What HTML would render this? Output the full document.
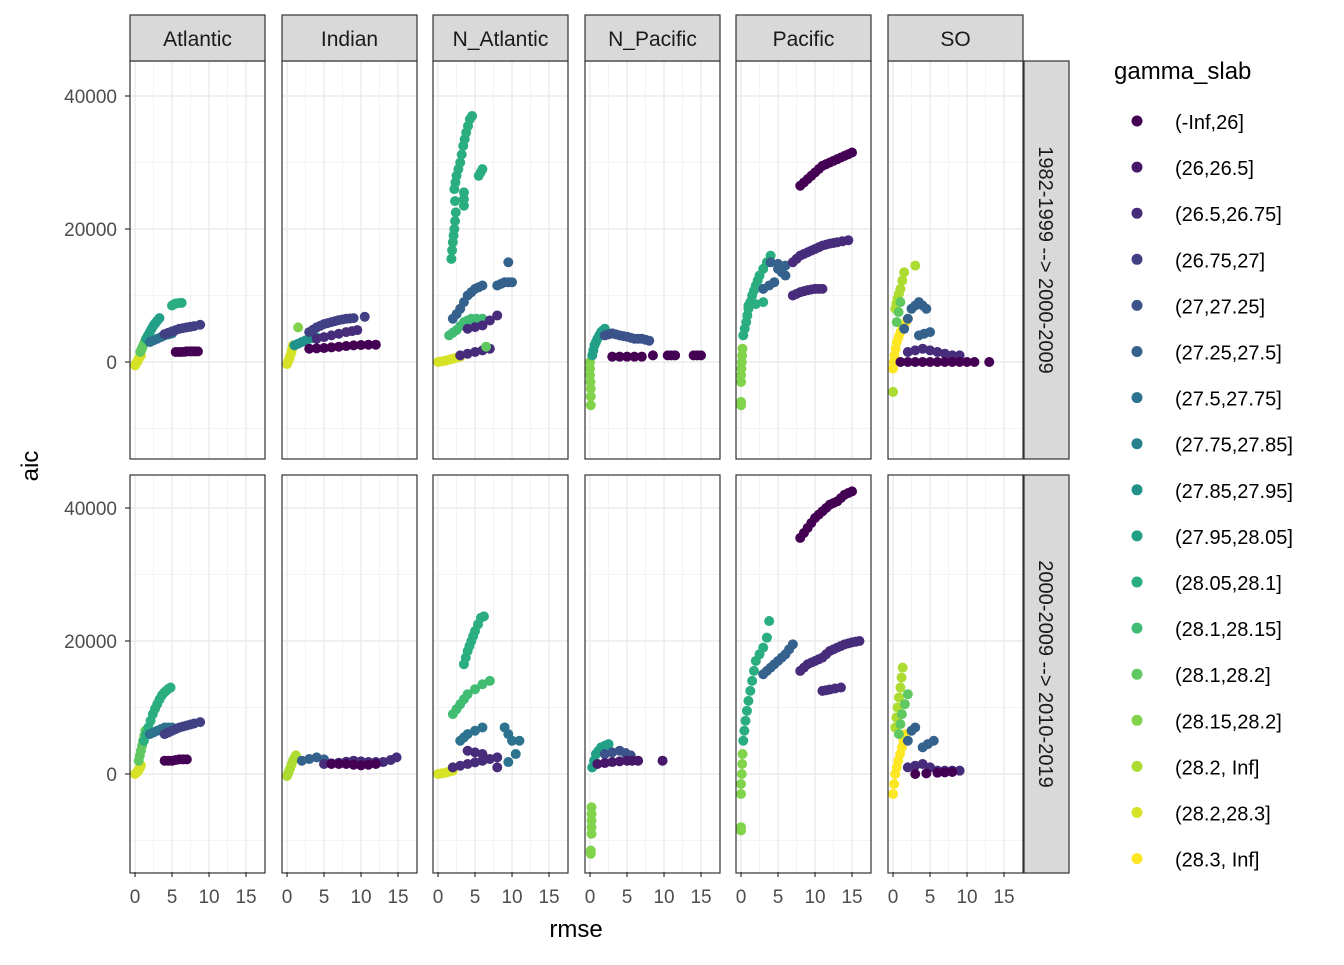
<!DOCTYPE html>
<html><head><meta charset="utf-8"><style>
body{margin:0;background:#fff}
svg text{font-family:"Liberation Sans",sans-serif}
</style></head><body>
<svg id="chart" width="1344" height="960" xmlns="http://www.w3.org/2000/svg"></svg>
<script>
const panels=["Atlantic","Indian","N_Atlantic","N_Pacific","Pacific","SO"];
const rowLabels=["1982-1999 --> 2000-2009","2000-2009 --> 2010-2019"];
const categories=["(-Inf,26]","(26,26.5]","(26.5,26.75]","(26.75,27]","(27,27.25]","(27.25,27.5]","(27.5,27.75]","(27.75,27.85]","(27.85,27.95]","(27.95,28.05]","(28.05,28.1]","(28.1,28.15]","(28.1,28.2]","(28.15,28.2]","(28.2, Inf]","(28.2,28.3]","(28.3, Inf]"];
const xTicks=[0,5,10,15];
const yTicks=[0,20000,40000];
const yTickLabels=["0","20000","40000"];
// each streak: [row, panel, category, [[rmse, aic], ...]]
const streaks=[
[0,0,15,[[0,-500],[0.15,-200],[0.3,0],[0.4,250],[0.5,500],[0.65,750],[0.8,1000]]],
[0,0,12,[[0.7,1500],[0.85,1850],[1,2200],[1.15,2600],[1.3,3000],[1.45,3250],[1.6,3500]]],
[0,0,9,[[1.5,3500],[1.75,4000],[2,4500],[2.25,5000],[2.5,5500],[2.75,5850],[3,6200],[3.3,6600]]],
[0,0,6,[[2,3000],[2.5,3250],[3,3500],[3.5,3750],[4,4000],[4.5,4150],[5,4300]]],
[0,0,3,[[4,4200],[4.5,4400],[5,4600],[5.5,4800],[6,5000],[6.5,5100],[7,5200],[7.5,5300],[8,5400],[8.8,5600]]],
[0,0,0,[[5.5,1500],[5.9,1500],[6.3,1500],[6.7,1550],[7,1600],[7.4,1600],[7.7,1600],[8.1,1600],[8.5,1600]]],
[0,0,10,[[5,8500],[5.3,8700],[5.5,8800],[5.9,8850],[6.3,8900]]],
[1,0,15,[[0,0],[0.15,150],[0.3,300],[0.45,550],[0.6,800],[0.7,1050],[0.8,1300]]],
[1,0,12,[[0.5,2000],[0.65,2750],[0.8,3500],[0.95,4250],[1.1,5000],[1.25,5750],[1.4,6500]]],
[1,0,10,[[1.2,5000],[1.5,6000],[1.8,7000],[2.1,8000],[2.4,9000],[2.7,9800],[3,10500],[3.3,11200],[3.6,11800],[3.9,12200],[4.2,12500],[4.5,12800],[4.8,13000]]],
[1,0,6,[[2,6000],[2.5,6250],[3,6500],[3.5,6750],[4,7000],[4.5,7000],[5,7000]]],
[1,0,3,[[4,6000],[4.5,6250],[5,6500],[5.5,6750],[6,7000],[6.5,7150],[7,7300],[7.5,7450],[8,7600],[8.8,7800]]],
[1,0,0,[[4,2000],[4.5,2000],[5,2000],[5.5,2100],[6,2200],[6.5,2200],[7,2200]]],
[0,1,15,[[0,-300],[0.15,100],[0.3,500],[0.45,1000],[0.6,1500],[0.7,2000],[0.8,2500]]],
[0,1,13,[[1.5,5200]]],
[0,1,8,[[1,2500],[1.5,2750],[2,3000],[2.5,3250],[3,3500],[3.5,3600],[4,3700]]],
[0,1,3,[[3,4500],[3.5,4850],[4,5200],[4.5,5450],[5,5700],[5.5,5850],[6,6000],[6.5,6150],[7,6300],[7.5,6400],[8,6500],[8.5,6550],[9,6600],[10.5,6800]]],
[0,1,2,[[4,3500],[5,3750],[6,4000],[7,4250],[8,4500],[8.8,4650],[9.5,4800]]],
[0,1,0,[[3,2000],[4,2050],[5,2100],[6,2200],[7,2300],[8,2400],[9,2500],[10,2550],[11,2600],[12,2600]]],
[1,1,14,[[0,-300],[0.2,250],[0.4,800],[0.6,1400],[0.8,2000],[1,2400],[1.2,2800]]],
[1,1,5,[[2,2000],[3,2250],[4,2500],[5,2200]]],
[1,1,2,[[5,1500],[6,1600],[7,1700],[8,1850],[9,2000],[10,1900],[11,1800],[12,1800],[13,1800],[14,2100],[14.8,2500]]],
[1,1,0,[[6,1500],[7,1500],[8,1500],[9,1400],[10,1300],[11,1400],[12,1500]]],
[0,2,10,[[1.8,15500],[1.9,16800],[2,18000],[2.1,19000],[2.2,20000],[2.3,21200],[2.4,22500],[2.3,24200],[2.2,26000],[2.35,27000],[2.5,28000],[2.75,29000],[3,30000],[3.2,31200],[3.4,32500],[3.6,33500],[3.8,34500],[4.05,35500],[4.3,36500],[4.6,37000],[5.5,28000],[5.75,28500],[6,29000],[3.5,25500],[3.5,24500],[3.5,23500]]],
[0,2,15,[[0,0],[0.5,100],[1,200],[1.5,350],[2,500],[2.5,650],[3,800]]],
[0,2,11,[[1.5,4000],[2,4400],[2.5,4800],[3,5400],[3.5,6000],[4,6250],[4.5,6500],[5.2,6500],[6,6500]]],
[0,2,5,[[2,6500],[2.5,7200],[3,8000],[3.5,9000],[4,10000],[4.5,10500],[5,11000],[5.5,11250],[6,11500],[8,11500],[8.5,11750],[9,12000],[9.5,12000],[10,12000],[9.5,15000]]],
[0,2,2,[[3,1000],[4,1250],[5,1500],[6,1750],[7,2000],[4,5000],[5,5250],[6,5500],[7,6250],[8,7000]]],
[0,2,12,[[6.5,2300]]],
[1,2,10,[[3.5,16500],[3.75,17500],[4,18500],[4.25,19250],[4.5,20000],[4.75,20750],[5,21500],[5.4,22500],[5.8,23500],[6.2,23700]]],
[1,2,11,[[2,9000],[2.5,9750],[3,10500],[3.5,11250],[4,12000],[5,12750],[6,13500],[7,14000]]],
[1,2,15,[[0,0],[0.5,100],[1,200],[1.5,350],[2,500]]],
[1,2,6,[[3,5000],[3.5,5500],[4,6000],[5,6500],[6,7000],[9,7000],[9.5,6000],[10,5000],[11,5000],[10.5,3000],[9.5,1800]]],
[1,2,2,[[2,1000],[3,1250],[4,1500],[5,1750],[6,2000],[7,2250],[8,2500],[4,3500],[5,3250],[6,3000],[8,1000]]],
[0,3,13,[[0,0],[0,-1000],[0,-2000],[0.05,-3000],[0.1,-4000],[0.1,-5200],[0.1,-6500]]],
[0,3,9,[[0.3,1000],[0.45,1750],[0.6,2500],[0.8,3000],[1,3500],[1.25,4000],[1.5,4500],[1.75,4750],[2,5000]]],
[0,3,4,[[2,4000],[2.5,4150],[3,4300],[3.5,4150],[4,4000],[4.5,3900],[5,3800],[5.5,3650],[6,3500],[6.5,3500],[7,3500],[7.5,3350],[8,3200]]],
[0,3,0,[[3,800],[4,800],[5,800],[6,800],[7,800],[8.5,1000],[10.5,1000],[11,1000],[11.5,1000],[14,1000],[14.5,1000],[15,1000]]],
[1,3,13,[[0.2,-5000],[0.2,-6000],[0.2,-7000],[0.2,-8000],[0.2,-9000],[0.1,-11500],[0.1,-12000]]],
[1,3,9,[[0.3,1000],[0.55,2000],[0.8,3000],[1.15,3500],[1.5,4000],[2,4250],[2.5,4500]]],
[1,3,4,[[2,3000],[3,3250],[4,3500],[4.8,3150],[5.5,2800]]],
[1,3,1,[[1,1500],[2,1650],[3,1800],[4,1900],[5,2000],[5.7,2000],[6.5,2000],[9.8,2000]]],
[0,4,13,[[0,-6500],[0,-6000],[0,-3000],[0,-2000],[0.05,-1000],[0.1,0],[0.15,1000],[0.2,2000]]],
[0,4,10,[[0.3,4000],[0.5,5000],[0.7,6000],[0.85,7000],[1,8000],[1.25,9000],[1.5,10000],[1.75,10750],[2,11500],[2.25,12250],[2.5,13000],[3,14000],[3.5,15000],[4,16000],[1,8500],[2,8700],[3,9000]]],
[0,4,5,[[3,11000],[3.8,11500],[4.5,12000],[5,14000],[5.5,13500],[6,13000],[4,15000],[5,14750],[6,14500]]],
[0,4,2,[[7,15000],[7.5,15500],[8,16000],[8.5,16250],[9,16500],[9.5,16750],[10,17000],[10.5,17250],[11,17500],[11.5,17650],[12,17800],[12.5,17900],[13,18000],[13.7,18150],[14.5,18300]]],
[0,4,2,[[7,10000],[7.5,10250],[8,10500],[8.5,10650],[9,10800],[9.5,10900],[10,11000],[10.5,11000],[11,11000]]],
[0,4,0,[[8,26500],[8.5,27000],[9,27500],[9.5,28000],[10,28500],[10.5,29000],[11,29500],[11.5,29750],[12,30000],[12.5,30250],[13,30500],[13.5,30750],[14,31000],[14.5,31250],[15,31500]]],
[1,4,13,[[0,-8500],[0,-8000],[0,-3000],[0,-1500],[0.1,0],[0.15,1500],[0.2,3000]]],
[1,4,10,[[0.3,5000],[0.45,6500],[0.6,8000],[0.8,9500],[1,11000],[1.25,12500],[1.5,14000],[1.75,15500],[2,17000],[2.5,18000],[3,19000],[3.5,20500],[3.8,23000]]],
[1,4,5,[[3,15000],[3.5,15500],[4,16000],[4.5,16500],[5,17000],[5.5,17500],[6,18000],[6.5,18750],[7,19500]]],
[1,4,2,[[8,15500],[8.5,16000],[9,16500],[9.5,16750],[10,17000],[10.5,17250],[11,17500],[11.5,18000],[12,18500],[12.5,18750],[13,19000],[13.5,19250],[14,19500],[14.5,19650],[15,19800],[15.5,19900],[16,20000]]],
[1,4,2,[[11,12500],[11.5,12600],[12,12700],[12.7,12850],[13.5,13000]]],
[1,4,0,[[8,35500],[8.5,36250],[9,37000],[9.5,37750],[10,38500],[10.5,39000],[11,39500],[11.5,40000],[12,40500],[12.5,40750],[13,41000],[13.5,41500],[14,42000],[14.5,42250],[15,42500]]],
[0,5,16,[[0,-1000],[0.1,0],[0.2,1000],[0.35,2000],[0.5,3000],[0.75,3750],[1,4500],[1.25,5000],[1.5,5500],[1.75,6000],[2,6500]]],
[0,5,14,[[0,-4500],[0.3,8000],[0.45,8750],[0.6,9500],[0.8,10250],[1,11000],[1.25,12250],[1.5,13500],[3,14500]]],
[0,5,12,[[0.5,6000],[0.75,7500],[1,9000]]],
[0,5,5,[[1.5,5000],[2,6500],[2.5,8000],[3,8500],[3.5,9000],[4,8500],[4.5,8000],[3.5,4000],[4.2,4250],[5,4500]]],
[0,5,2,[[2,1500],[3,1750],[4,2000],[5,1750],[6,1500],[7,1250],[8,1000],[9,1000]]],
[0,5,0,[[1,0],[2,0],[3,0],[4,0],[5,0],[6,0],[7,0],[8,0],[9,0],[10,0],[11,0],[13,0]]],
[1,5,16,[[0,-3000],[0.15,-1500],[0.3,0],[0.5,1000],[0.7,2000],[0.95,3000],[1.2,4000],[1.4,5000],[1.6,6000]]],
[1,5,14,[[0.3,7000],[0.45,8500],[0.6,10000],[0.8,11500],[1,13000],[1.15,14500],[1.3,16000]]],
[1,5,12,[[0.8,6000],[1,7500],[1.2,9000],[1.6,10500],[2,12000]]],
[1,5,5,[[2,5000],[2.5,6500],[3,7000],[4,4000],[4.7,4500],[5.5,5000]]],
[1,5,2,[[2,1000],[3,1250],[4,1500],[5,1000],[6,500],[7,500],[8,500],[9,500]]],
[1,5,0,[[3,0],[4.5,100],[6,200],[7,250],[8,300]]]
];

const NS="http://www.w3.org/2000/svg";
const svg=document.getElementById("chart");
function mk(tag,attrs,parent){const e=document.createElementNS(NS,tag);for(const k in attrs)e.setAttribute(k,attrs[k]);(parent||svg).appendChild(e);return e;}
const stops=[[68,1,84],[72,36,117],[65,68,135],[53,95,141],[42,120,142],[33,145,140],[34,168,132],[68,191,112],[122,209,81],[189,223,38],[253,231,37]];
function viridis(t){const p=t*10,i=Math.min(9,Math.floor(p)),f=p-i;const a=stops[i],b=stops[i+1];return `rgb(${a.map((v,k)=>Math.round(v+(b[k]-v)*f)).join(",")})`;}
function color(c){return viridis(c/(categories.length-1));}

const panelLeft=[130,282,433,585,736,888], panelW=135;
const rowTop=[61,475], panelH=398;
const xMin=-0.68, xScale=7.4;
const yZero=[362,774], yScale=133/20000;
function xPos(p,v){return panelLeft[p]+(v-xMin)*xScale;}
function yPos(r,v){return yZero[r]-v*yScale;}

for(let r=0;r<2;r++){for(let p=0;p<6;p++){
  const g=mk("g",{});
  
  
  mk("rect",{x:panelLeft[p],y:rowTop[r],width:panelW,height:panelH,fill:"#fff"},g);
  [2.5,7.5,12.5].forEach(v=>mk("line",{x1:xPos(p,v),x2:xPos(p,v),y1:rowTop[r],y2:rowTop[r]+panelH,stroke:"#f4f4f4","stroke-width":1},g));
  [-10000,10000,30000].forEach(v=>mk("line",{x1:panelLeft[p],x2:panelLeft[p]+panelW,y1:yPos(r,v),y2:yPos(r,v),stroke:"#f4f4f4","stroke-width":1},g));
  xTicks.forEach(v=>mk("line",{x1:xPos(p,v),x2:xPos(p,v),y1:rowTop[r],y2:rowTop[r]+panelH,stroke:"#ebebeb","stroke-width":1.4},g));
  yTicks.forEach(v=>mk("line",{x1:panelLeft[p],x2:panelLeft[p]+panelW,y1:yPos(r,v),y2:yPos(r,v),stroke:"#ebebeb","stroke-width":1.4},g));
  streaks.filter(s=>s[0]===r&&s[1]===p).forEach(s=>{s[3].forEach(pt=>{
    const c=mk("circle",{cx:xPos(p,pt[0]),cy:yPos(r,pt[1]),r:5,fill:color(s[2])},g);
    
    
  });});
  mk("rect",{x:panelLeft[p],y:rowTop[r],width:panelW,height:panelH,fill:"none",stroke:"#333","stroke-width":1.2},g);
}}
for(let p=0;p<6;p++){
  const g=mk("g",{});
  
  
  mk("rect",{x:panelLeft[p],y:15,width:panelW,height:46,fill:"#d9d9d9",stroke:"#333","stroke-width":1.2},g);
  const t=mk("text",{x:panelLeft[p]+panelW/2,y:46,"text-anchor":"middle","font-size":21,fill:"#1a1a1a"},g);t.textContent=panels[p];
  xTicks.forEach(v=>{
    mk("line",{x1:xPos(p,v),x2:xPos(p,v),y1:872,y2:877,stroke:"#333","stroke-width":1.2});
    const tt=mk("text",{x:xPos(p,v),y:903,"text-anchor":"middle","font-size":19,fill:"#4d4d4d"});tt.textContent=v;
    
    
  });
}
for(let r=0;r<2;r++){
  const g=mk("g",{});
  
  
  mk("rect",{x:1024,y:rowTop[r],width:45,height:panelH,fill:"#d9d9d9",stroke:"#333","stroke-width":1.2},g);
  const cy=rowTop[r]+panelH/2;
  const t=mk("text",{x:1039,y:cy,"text-anchor":"middle","font-size":20,fill:"#1a1a1a",transform:`rotate(90 1039 ${cy})`},g);t.textContent=rowLabels[r];
  yTicks.forEach((v,i)=>{
    mk("line",{x1:125,x2:130,y1:yPos(r,v),y2:yPos(r,v),stroke:"#333","stroke-width":1.2});
    const tt=mk("text",{x:117,y:yPos(r,v)+7,"text-anchor":"end","font-size":19,fill:"#4d4d4d"});tt.textContent=yTickLabels[i];
    
    
  });
}
let t=mk("text",{x:576,y:937,"text-anchor":"middle","font-size":24,fill:"#000"});t.textContent="rmse";


t=mk("text",{x:38,y:466,"text-anchor":"middle","font-size":24,fill:"#000",transform:"rotate(-90 38 466)"});t.textContent="aic";


const lg=mk("g",{});


t=mk("text",{x:1114,y:79,"font-size":24,fill:"#000"},lg);t.textContent="gamma_slab";
categories.forEach((c,i)=>{
  const y=121+i*46.1;
  const e=mk("g",{},lg);
  
  
  mk("circle",{cx:1137,cy:y,r:5.5,fill:color(i)},e);
  const tx=mk("text",{x:1175,y:y+8,"font-size":20,fill:"#000"},e);tx.textContent=c;
});
</script>
</body></html>
